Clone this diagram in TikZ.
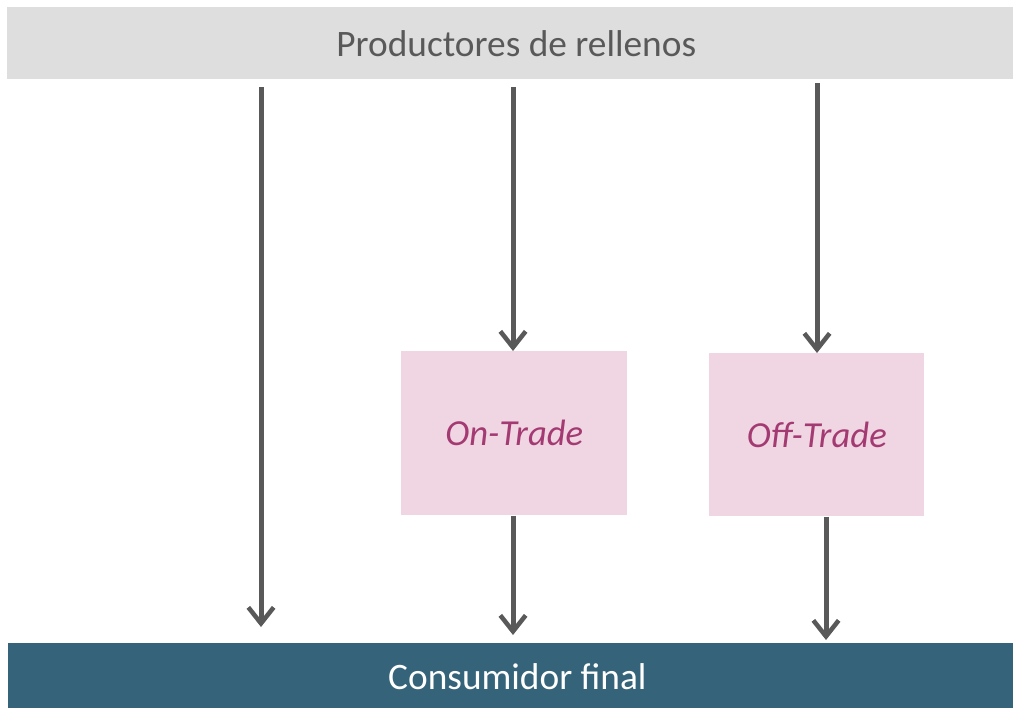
\documentclass[tikz,border=0pt]{standalone}
\usepackage{fontspec}
\setmainfont{Carlito}
\usetikzlibrary{arrows.meta}
\definecolor{topgray}{HTML}{DEDEDE}
\definecolor{toptext}{HTML}{595959}
\definecolor{bottomblue}{HTML}{356379}
\definecolor{pinkfill}{HTML}{F0D5E3}
\definecolor{pinktext}{HTML}{A33A72}
\definecolor{arrowgray}{HTML}{595959}
\begin{document}
\begin{tikzpicture}[x=0.75pt,y=-0.75pt,
  bar/.style={draw=none,inner sep=0pt,anchor=north west},
  channel/.style={fill=pinkfill,draw=none,inner sep=0pt,anchor=north west},
  label/.style={font=\fontsize{28}{33}\selectfont},
  flow/.style={draw=arrowgray,line width=3.75pt,-{Straight Barb[length=12pt,width=19pt,line width=3.4pt]}}]
\useasboundingbox (0,0) rectangle (1013,708);
\node[bar,fill=topgray,minimum width=1006*0.75pt,minimum height=72*0.75pt] (top) at (7,7) {};
\node[label,text=toptext,xshift=4.5pt] (toptxt) at (top.center) {Productores de rellenos};
\node[bar,fill=bottomblue,minimum width=1005*0.75pt,minimum height=65*0.75pt] (bottom) at (8,643) {};
\node[label,text=white,xshift=5pt,yshift=-1pt] (bottomtxt) at (bottom.center) {Consumidor final};
\node[channel,minimum width=226*0.75pt,minimum height=164*0.75pt] (on) at (401,351) {};
\node[label,text=pinktext,font=\fontsize{27.5}{33}\selectfont\itshape] (ontxt) at (on.center) {On-Trade};
\node[channel,minimum width=215*0.75pt,minimum height=163*0.75pt] (off) at (709,353) {};
\node[label,text=pinktext,font=\fontsize{27.5}{33}\selectfont\itshape] (offtxt) at (off.center) {Off-Trade};
\coordinate (a1s) at (261,87);
\coordinate (a1e) at (261,627);
\coordinate (a2s) at (513,87);
\coordinate (a3s) at (817,83);
\coordinate (a4e) at (513,635);
\coordinate (a5e) at (826,640);
\draw[flow] (a1s) -- (a1e);
\draw[flow] (a2s) -- (a2s |- on.north);
\draw[flow] (a3s) -- (a3s |- off.north);
\draw[flow] (a4e |- on.south) -- (a4e);
\draw[flow] (a5e |- off.south) -- (a5e);
\end{tikzpicture}
\end{document}
